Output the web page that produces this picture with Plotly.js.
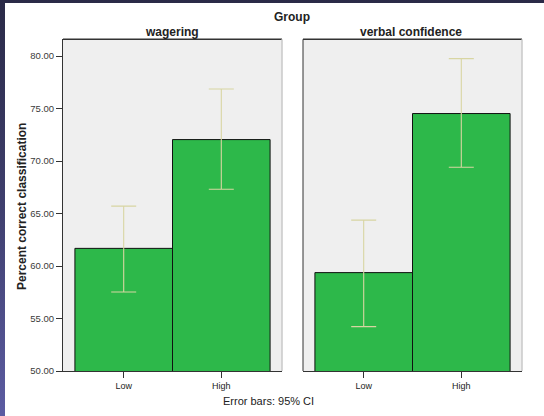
<!DOCTYPE html>
<html>
<head>
<meta charset="utf-8">
<script src="https://cdn.plot.ly/plotly-3.0.1.min.js"></script>
<style>
  html, body { margin:0; padding:0; width:544px; height:416px; overflow:hidden; }
  body { background: linear-gradient(to bottom, #2a2a47 0%, #3f3f6e 50%, #5c5ca2 100%); position:relative; }
  #white { position:absolute; left:5px; top:3px; right:0; bottom:0; background:#ffffff; }
  #chart { position:absolute; left:0; top:0; width:544px; height:416px; }
</style>
</head>
<body>
<div id="white"></div>
<div id="chart"></div>
<script>
// ---- data ----
const groups = ['wagering', 'verbal confidence'];
const levels = ['Low', 'High'];
const wageringMean  = [61.68, 72.04];
const wageringLower = [57.53, 67.31];
const wageringUpper = [65.70, 76.85];
const verbalMean    = [59.37, 74.52];
const verbalLower   = [54.23, 69.40];
const verbalUpper   = [64.37, 79.75];
const yTicks = [50, 55, 60, 65, 70, 75, 80];

// ---- styling ----
const W = 544, H = 416;
const FONT = 'Liberation Sans, Arial, sans-serif';
const barColor = '#2db84a';
const errColor = '#d8d5a2';
const dark = '#333333';

function barTrace(mean, lower, upper, xa) {
  return {
    type: 'bar',
    x: levels,
    y: mean,
    xaxis: xa,
    yaxis: 'y',
    width: 1,
    marker: { color: barColor, line: { color: '#111111', width: 1 } },
    error_y: {
      type: 'data',
      symmetric: false,
      array: upper.map((u, i) => u - mean[i]),
      arrayminus: mean.map((m, i) => m - lower[i]),
      color: errColor,
      thickness: 1.1,
      width: 12.5
    },
    hoverinfo: 'none',
    showlegend: false
  };
}

const data = [
  barTrace(wageringMean, wageringLower, wageringUpper, 'x'),
  barTrace(verbalMean, verbalLower, verbalUpper, 'x2')
];

const xCommon = {
  type: 'category',
  range: [-0.622, 1.622],
  showgrid: false, zeroline: false,
  showline: true, linecolor: dark, linewidth: 1,
  ticks: 'outside', ticklen: 6, tickcolor: dark, tickwidth: 1,
  tickfont: { family: FONT, size: 9, color: '#222' },
  fixedrange: true
};

const xd1 = [63 / W, 282 / W];
const xd2 = [303 / W, 522 / W];
const yd = [(H - 371) / H, (H - 39.3) / H];

const layout = {
  width: W, height: H,
  margin: { l: 0, r: 0, t: 0, b: 0 },
  paper_bgcolor: 'rgba(0,0,0,0)',
  plot_bgcolor: '#efefef',
  bargap: 0,
  xaxis: Object.assign({}, xCommon, { domain: xd1, anchor: 'y' }),
  xaxis2: Object.assign({}, xCommon, { domain: xd2, anchor: 'y' }),
  yaxis: {
    domain: yd,
    range: [50, 81.59],
    tickvals: yTicks,
    ticktext: yTicks.map(v => v.toFixed(2)),
    showgrid: false, zeroline: false,
    showline: true, linecolor: dark, linewidth: 1,
    ticks: 'outside', ticklen: 6, tickcolor: dark,
    tickfont: { family: FONT, size: 9.5, color: '#3a3a3a' },
    fixedrange: true
  },
  shapes: [
    // left panel top and right edges
    { type: 'line', xref: 'paper', yref: 'paper', x0: xd1[0], x1: xd1[1], y0: yd[1], y1: yd[1], line: { color: dark, width: 1.5 } },
    { type: 'line', xref: 'paper', yref: 'paper', x0: xd1[1], x1: xd1[1], y0: yd[0], y1: yd[1], line: { color: '#c8c8c8', width: 1.5 } },
    // right panel left, top and right edges
    { type: 'line', xref: 'paper', yref: 'paper', x0: xd2[0], x1: xd2[0], y0: yd[0], y1: yd[1], line: { color: dark, width: 1 } },
    { type: 'line', xref: 'paper', yref: 'paper', x0: xd2[0], x1: xd2[1], y0: yd[1], y1: yd[1], line: { color: dark, width: 1.5 } },
    { type: 'line', xref: 'paper', yref: 'paper', x0: xd2[1], x1: xd2[1], y0: yd[0], y1: yd[1], line: { color: '#c8c8c8', width: 1.5 } }
  ],
  annotations: [
    { text: '<b>Group</b>', xref: 'paper', yref: 'paper', x: 292 / W, y: (H - 16.5) / H, showarrow: false, xanchor: 'center', yanchor: 'middle', font: { family: FONT, size: 12, color: '#222' } },
    { text: '<b>' + groups[0] + '</b>', xref: 'paper', yref: 'paper', x: 172 / W, y: (H - 32) / H, showarrow: false, xanchor: 'center', yanchor: 'middle', font: { family: FONT, size: 12, color: '#222' } },
    { text: '<b>' + groups[1] + '</b>', xref: 'paper', yref: 'paper', x: 411 / W, y: (H - 32) / H, showarrow: false, xanchor: 'center', yanchor: 'middle', font: { family: FONT, size: 12, color: '#222' } },
    { text: '<b>Percent correct classification</b>', xref: 'paper', yref: 'paper', x: 22 / W, y: (H - 207) / H, textangle: -90, showarrow: false, xanchor: 'center', yanchor: 'middle', font: { family: FONT, size: 12, color: '#222' } },
    { text: 'Error bars: 95% CI', xref: 'paper', yref: 'paper', x: 268 / W, y: (H - 401) / H, showarrow: false, xanchor: 'center', yanchor: 'middle', font: { family: FONT, size: 11, color: '#222' } }
  ]
};

Plotly.newPlot('chart', data, layout, { staticPlot: true, displayModeBar: false });
</script>
</body>
</html>
